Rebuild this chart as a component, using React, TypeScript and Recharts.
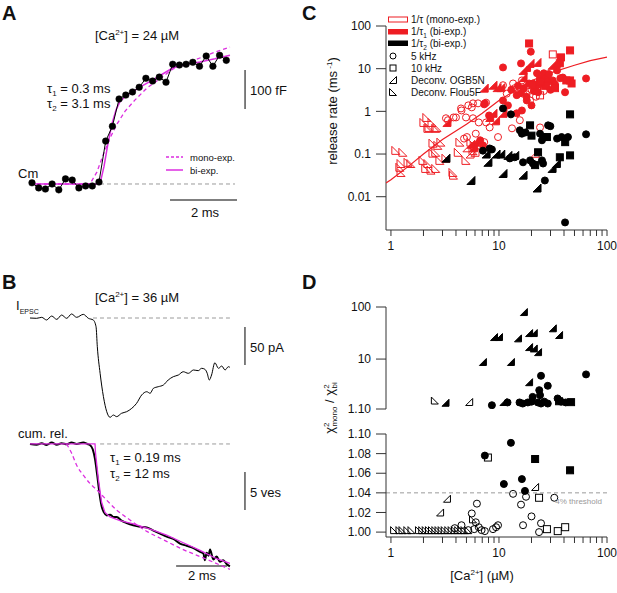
import React from "react";
import {
  ComposedChart,
  ScatterChart,
  Scatter,
  Line,
  XAxis,
  YAxis,
  ReferenceLine,
} from "recharts";

const FONT = "Arial, 'Liberation Sans', Helvetica, sans-serif";
const RED = "#ee1d23";
const MAGENTA = "#dc2ee0";
const AXIS = "#333";
const GRAY = "#9a9a9a";
const BAR = "#555";

// ---------- panel A: capacitance (time in ms, Cm in fF)
const cmTime = [0, 0.2, 0.4, 0.6, 0.8, 1.0, 1.2, 1.4, 1.6, 1.8, 2.0, 2.2, 2.4, 2.6, 2.8, 3.0, 3.2, 3.4, 3.6, 3.8, 4.0, 4.2, 4.4, 4.6, 4.8, 5.0, 5.2, 5.4, 5.6, 5.8];
const cmValues = [3, -10, -13, 0, -15, 13, 10, -10, -5, -5, 5, 110, 148, 218, 228, 236, 248, 271, 264, 274, 261, 307, 305, 307, 312, 302, 328, 302, 330, 317];
const cmMonoFit = [[-0.06, 0], [1.73, 0], [1.94, 31], [2.12, 74], [2.33, 118], [2.54, 154], [2.78, 187], [3.07, 215], [3.43, 246], [3.82, 270], [4.21, 295], [4.63, 310], [5.01, 323], [5.46, 338], [5.91, 351]];
const cmBiFit = [[-0.06, 0], [2.03, 0], [2.15, 45], [2.27, 105], [2.39, 155], [2.51, 190], [2.63, 212], [2.84, 228], [3.01, 237], [3.3, 252], [3.61, 267], [3.9, 282], [4.21, 298], [4.63, 307], [5.01, 313], [5.46, 321], [5.91, 330]];

// ---------- panel B: EPSC (pA) and cumulative release (vesicles)
const epscTrace = [[0, 0], [0.26, -0.4], [0.46, 0.9], [0.65, -2.6], [0.85, 2.6], [1.05, -1.8], [1.24, 3.9], [1.44, -0.4], [1.63, 5.3], [1.83, 0.9], [2.09, 4.8], [2.29, -0.4], [2.48, -2.6], [2.59, -11.4], [2.64, -37.7], [2.75, -72.8], [2.88, -103.5], [3.01, -123.3], [3.14, -130.7], [3.27, -127.7], [3.4, -129.8], [3.59, -125.4], [3.79, -123.3], [3.99, -118.9], [4.18, -112.3], [4.38, -101.3], [4.58, -97], [4.71, -99.1], [4.84, -92.5], [5.03, -90.4], [5.23, -88.2], [5.42, -81.6], [5.62, -77.2], [5.82, -75], [6.01, -70.7], [6.21, -72.8], [6.41, -68.4], [6.6, -69.3], [6.73, -66.2], [6.86, -67.5], [6.95, -72.8], [7.03, -81.6], [7.12, -75], [7.25, -58.8], [7.39, -66.2], [7.52, -63.2], [7.65, -68.4], [7.78, -64.1], [7.84, -64.9]];
const cumTrace = [[0, 0], [0.26, 0.09], [0.46, -0.09], [0.65, 0.13], [0.85, -0.18], [1.05, 0.09], [1.24, -0.09], [1.44, 0.04], [1.63, -0.18], [1.83, 0], [2.09, -0.18], [2.25, 0], [2.35, 0.13], [2.46, 0.7], [2.55, 2.0], [2.64, 4.2], [2.72, 6.4], [2.81, 8.2], [2.9, 9.0], [3.01, 9.4], [3.14, 9.3], [3.27, 9.6], [3.4, 9.6], [3.59, 10.1], [3.79, 10.4], [4.05, 10.7], [4.31, 10.9], [4.58, 11.0], [4.84, 11.4], [5.1, 11.8], [5.36, 12.2], [5.62, 12.5], [5.88, 13.1], [6.14, 13.4], [6.41, 13.7], [6.67, 14.2], [6.8, 14.4], [6.86, 15.3], [6.93, 14.3], [7.0, 14.7], [7.06, 13.9], [7.19, 15.2], [7.32, 14.8], [7.45, 15.5], [7.58, 15.3], [7.71, 15.8], [7.84, 16.1]];
const cumBiFit = [[0, 0], [2.55, 0], [2.57, 1.2], [2.68, 4.6], [2.81, 7.7], [2.94, 9.0], [3.14, 9.6], [3.53, 10.1], [4.05, 10.5], [4.71, 11.2], [5.36, 12.0], [6.01, 13.0], [6.67, 14.0], [7.32, 15.1], [7.84, 15.7]];
const cumMonoFit = [[1.44, 0], [1.63, 1.2], [1.83, 2.8], [2.09, 4.1], [2.35, 5.2], [2.61, 6.0], [3.01, 7.4], [3.4, 8.7], [3.92, 10.0], [4.58, 11.5], [5.23, 12.6], [6.01, 13.9], [6.8, 15.0], [7.84, 16.5]];

// ---------- panel C: release rate (ms^-1) vs [Ca2+] (uM)
const cMonoCircle = [[3.23, 0.69], [3.37, 0.62], [3.8, 0.72], [4.0, 0.72], [4.45, 1.17], [4.5, 1.05], [4.75, 0.23], [4.95, 0.72], [5.05, 0.25], [5.2, 1.38], [5.6, 1.24], [5.75, 1.54], [5.75, 0.69], [6.1, 0.3], [6.4, 1.54], [6.5, 0.55], [7.3, 0.19], [7.6, 1.6], [7.6, 0.55], [8.2, 0.42], [9.8, 0.25], [10.9, 4.1], [11.8, 2.6], [13.2, 0.4], [13.5, 4.5], [15.6, 0.62], [16.3, 5.3], [16.7, 2.6], [19.4, 1.8], [24, 0.42], [31.5, 3.7], [20, 3.2], [22, 2.2], [26, 3], [18, 2.5], [14, 3.5]];
const cMonoSquare = [[24, 2.37], [31.5, 21.6], [22.5, 3], [26, 4]];
const cMonoOgb = [[5.05, 0.14], [5.4, 0.1], [6, 0.11], [21.6, 0.104]];
const cMonoFlou = [[1.11, 0.122], [1.29, 0.11], [1.24, 0.06], [1.44, 0.064], [1.53, 0.06], [1.24, 0.037], [1.21, 0.049], [2.02, 0.55], [2.25, 0.42], [2.6, 0.4], [2.2, 0.4], [2.15, 0.72], [2.4, 0.55], [2.67, 0.42], [2.45, 0.18], [2.72, 0.16], [2.9, 0.19], [2.6, 0.11], [2.45, 0.105], [1.98, 0.071], [2.1, 0.046], [2.35, 0.042], [2.6, 0.046], [2.2, 0.06], [3.23, 0.08], [3.75, 0.037], [3.8, 0.032], [4.2, 0.11], [4.95, 0.071], [4.35, 0.19], [5.5, 0.19], [5.9, 0.16], [5.75, 0.12], [2.84, 0.071]];
const cBiFastCircle = [[6.7, 0.21], [7.1, 0.16], [7.3, 1.46], [7.4, 1.54], [8.1, 0.8], [10.9, 1.8], [10.9, 10.7], [12.1, 1.38], [14.6, 2.4], [14.6, 0.9], [16, 13.3], [16.3, 1.05], [18.1, 1.8], [19.7, 25], [20, 1.38], [20.6, 4.5], [22.5, 7.8], [24, 5.9], [26, 7.8], [27.8, 6.2], [31.5, 5.3], [34.5, 9.1], [39, 6.2], [40.9, 2.8], [64, 5.9], [13, 3.2], [15, 4], [16, 2.7], [17, 3.5], [18, 2.2], [19, 4.5], [21, 3], [22, 3.8], [23, 2.8], [25, 4.3], [28, 4.8], [29, 7.5], [30, 3.2], [33, 4.3], [37, 6]];
const cBiFastSquare = [[19, 39], [45.5, 26.8], [37.5, 18.4], [36.6, 13.4], [20.6, 4.1], [45.5, 5.3], [47, 4.5], [42, 5.3], [27, 4], [24, 5], [33, 3.5]];
const cBiFastOgb = [[3.3, 0.55], [6, 0.19], [7.3, 3.5], [8.8, 4.1], [10.4, 3.6], [9.6, 3.6], [8.2, 0.72], [8.8, 0.9], [9.3, 0.6], [10.9, 0.9], [16.7, 9.1], [16.7, 6.2], [18, 10.7], [19.4, 13.3], [22.5, 14], [31, 12], [34, 13.3], [5.5, 0.17], [5.8, 0.14]];
const cBiSlowCircle = [[7.1, 0.12], [8.2, 0.135], [8.6, 0.128], [10.9, 1.17], [12.9, 0.85], [12.6, 0.079], [14, 0.084], [15.6, 0.36], [16.3, 0.3], [17.6, 0.32], [24, 0.3], [25, 0.21], [26.6, 0.25], [28.5, 0.47], [29.9, 0.45], [34.5, 0.23], [38, 0.25], [43.5, 0.25], [64, 0.29], [16.7, 0.064], [19.4, 0.071], [25, 0.071], [25.6, 0.06], [26.6, 0.024], [40.9, 0.0025], [20.6, 0.06]];
const cBiSlowSquare = [[19.4, 0.47], [20, 0.27], [45.5, 0.85], [41, 0.19], [23, 0.11], [21.6, 0.055], [36.6, 0.084], [45.5, 0.093], [27.8, 0.25]];
const cBiSlowOgb = [[3.23, 0.08], [5.5, 0.024], [7.6, 0.1], [7.9, 0.064], [9.4, 0.1], [10.4, 0.1], [12.1, 0.093], [14, 0.093], [10.9, 0.035], [16.7, 0.032], [22.5, 0.016], [31, 0.046], [34, 0.06]];
const cRateFit = [[0.9, 0.021], [1, 0.025], [1.5, 0.055], [2, 0.1], [3, 0.22], [5, 0.5], [7, 0.9], [10, 1.8], [15, 3.4], [20, 5.2], [30, 8], [50, 12], [70, 15.5], [100, 18.7]];

// ---------- panel D: chi2 ratio mono / bi vs [Ca2+]
const dFilledCircle = [[8.6, 1.3], [12, 1.47], [15.5, 1.47], [16.6, 1.4], [18.5, 1.47], [20, 1.52], [20.5, 1.88], [22.9, 1.47], [24, 2.03], [24.5, 1.4], [26.3, 1.52], [28.3, 1.4], [34.9, 1.75], [37.6, 1.52], [41.5, 1.47], [24.5, 4.78], [28.3, 3.07], [23.6, 2.53], [64, 5.08], [12.9, 1.091], [7.4, 1.078], [11.1, 1.049], [16.3, 1.054], [17.4, 1.042]];
const dFilledSquare = [[36, 1.55], [46.5, 1.49], [21.6, 1.0745], [45.5, 1.063]];
const dFilledOgb = [[17, 80], [9, 26.5], [10, 26.5], [15, 25], [19, 31.6], [21, 31.6], [31.5, 39], [36, 29], [19, 17], [21, 16], [23, 13.6], [7.1, 8.8], [12.9, 8.8], [19, 3.6], [3.2, 1.45], [11, 1.5]];
const dOpenCircle = [[13.5, 1.039], [17.8, 1.036], [16, 1.028], [32.5, 1.035], [20, 1.016], [24.5, 1.009], [23.5, 1.0], [16.7, 1.007], [6.25, 1.029], [5.6, 1.019], [6.1, 1.01], [9.8, 1.007], [9.4, 1.005], [8.8, 1.003], [4.5, 1.007], [3.9, 1.004], [6.5, 1.005], [7.4, 1.001], [5.2, 1.002], [6.9, 1.002], [5.9, 1.003]];
const dOpenSquare = [[7.9, 1.076], [23.5, 1.035], [27.8, 1.003], [35, 1.001], [41, 1.005]];
const dOpenOgb = [[5.3, 1.5], [21.6, 1.046], [3.3, 1.034], [2.85, 1.02]];
const dOpenFlou = [[2.55, 1.6], [5.75, 1.013], [1.07, 1.002], [1.2, 1.002], [1.28, 1.002], [1.42, 1.002], [1.55, 1.002], [1.82, 1.002], [1.95, 1.002], [2.1, 1.002], [2.25, 1.002], [2.4, 1.002], [2.58, 1.002], [2.76, 1.002], [2.95, 1.002], [3.15, 1.002], [3.4, 1.002], [3.65, 1.002], [3.9, 1.002], [4.2, 1.002], [4.5, 1.002], [4.8, 1.002], [5.2, 1.002]];

const logTicksX = [1, 2, 3, 4, 5, 6, 7, 8, 9, 10, 20, 30, 40, 50, 60, 70, 80, 90, 100];
const rateTicks = [0.01, 0.1, 1, 10, 100];
const chiTopTicks = [1.1, 10, 100];
const chiBottomTicks = [1.0, 1.02, 1.04, 1.06, 1.08, 1.1];

const xy = (a: number[][]) => a.map(([x, y]) => ({ x, y }));
const tv = (a: number[][]) => a.map(([t, v]) => ({ t, v }));
const cmData = cmTime.map((t, i) => ({ t, v: cmValues[i] }));

type Kind = "circle" | "square" | "ogb" | "flou";

const marker =
  (kind: Kind, color: string, filled: boolean, size = 7) =>
  (p: any) => {
    const { cx, cy } = p;
    if (cx == null || cy == null) return <g />;
    const h = size / 2;
    const common = {
      fill: filled ? color : "none",
      stroke: color,
      strokeWidth: 1,
    };
    if (kind === "circle") return <circle cx={cx} cy={cy} r={h} {...common} />;
    if (kind === "square")
      return <rect x={cx - h} y={cy - h} width={size} height={size} {...common} />;
    if (kind === "ogb")
      return (
        <polygon
          points={`${cx + h},${cy - h} ${cx + h},${cy + h} ${cx - h},${cy + h}`}
          {...common}
        />
      );
    return (
      <polygon
        points={`${cx - h},${cy - h} ${cx - h},${cy + h} ${cx + h},${cy + h}`}
        {...common}
      />
    );
  };

const noShape = () => <g />;

const LogTick = (props: any) => {
  const { x, y, payload } = props;
  const v = payload.value;
  if (v !== 1 && v !== 10 && v !== 100) return <g />;
  return (
    <text x={x} y={y} dy="0.71em" textAnchor="middle" fontSize={12} fill="#111" fontFamily={FONT}>
      {v}
    </text>
  );
};

const tickStyle = { fontSize: 12, fill: "#111", fontFamily: FONT };

const Sup = ({ children }: any) => (
  <tspan fontSize={8} dy={-5}>
    {children}
  </tspan>
);

const Overlay = () => (
  <svg
    width={617}
    height={593}
    style={{ position: "absolute", left: 0, top: 0, pointerEvents: "none" }}
    fontFamily={FONT}
    fill="#111"
  >
    {/* panel letters */}
    <text x={2} y={20} fontSize={20} fontWeight="bold">A</text>
    <text x={2} y={289} fontSize={20} fontWeight="bold">B</text>
    <text x={302} y={20} fontSize={20} fontWeight="bold">C</text>
    <text x={302} y={289} fontSize={20} fontWeight="bold">D</text>

    {/* panel A */}
    <text x={137} y={39.5} fontSize={13} textAnchor="middle">
      [Ca<Sup>2+</Sup>
      <tspan dy={5}>] = 24 µM</tspan>
    </text>
    <text x={47} y={92.5} fontSize={13}>
      τ<tspan fontSize={8} dy={3}>1</tspan>
      <tspan dy={-3}> = 0.3 ms</tspan>
    </text>
    <text x={47} y={107.5} fontSize={13}>
      τ<tspan fontSize={8} dy={3}>2</tspan>
      <tspan dy={-3}> = 3.1 ms</tspan>
    </text>
    <text x={250} y={94.5} fontSize={13}>100 fF</text>
    <text x={205} y={216.5} fontSize={13} textAnchor="middle">2 ms</text>
    <text x={18} y={177.5} fontSize={13}>Cm</text>
    <line x1={166} x2={183} y1={157} y2={157} stroke={MAGENTA} strokeWidth={1.3} strokeDasharray="3 2" />
    <line x1={166} x2={183} y1={170} y2={170} stroke={MAGENTA} strokeWidth={1.5} />
    <text x={190} y={160.5} fontSize={9.5}>mono-exp.</text>
    <text x={190} y={173.5} fontSize={9.5}>bi-exp.</text>

    {/* panel B */}
    <text x={137} y={301.5} fontSize={13} textAnchor="middle">
      [Ca<Sup>2+</Sup>
      <tspan dy={5}>] = 36 µM</tspan>
    </text>
    <text x={16} y={309.5} fontSize={13}>
      I<tspan fontSize={7} dy={4}>EPSC</tspan>
    </text>
    <text x={250} y={351.5} fontSize={13}>50 pA</text>
    <text x={18} y={437.5} fontSize={13}>cum. rel.</text>
    <text x={110} y={461.5} fontSize={13}>
      τ<tspan fontSize={8} dy={3}>1</tspan>
      <tspan dy={-3}> = 0.19 ms</tspan>
    </text>
    <text x={110} y={477.5} fontSize={13}>
      τ<tspan fontSize={8} dy={3}>2</tspan>
      <tspan dy={-3}> = 12 ms</tspan>
    </text>
    <text x={250} y={496.5} fontSize={13}>5 ves</text>
    <text x={202} y={579.5} fontSize={13} textAnchor="middle">2 ms</text>

    {/* panel C legend */}
    <rect x={388.5} y={17} width={19} height={5} fill="none" stroke={RED} strokeWidth={1} />
    <rect x={388} y={29} width={20} height={5.5} fill={RED} />
    <rect x={388} y={40.5} width={20} height={5.5} fill="#000" />
    {marker("circle", "#000", false, 6)({ cx: 393, cy: 56 })}
    {marker("square", "#000", false, 6)({ cx: 393, cy: 68 })}
    {marker("ogb", "#000", false, 7)({ cx: 393, cy: 80 })}
    {marker("flou", "#000", false, 7)({ cx: 393, cy: 92 })}
    <text x={411} y={23} fontSize={10}>1/τ (mono-exp.)</text>
    <text x={411} y={35} fontSize={10}>
      1/τ<tspan fontSize={6.5} dy={2.5}>1</tspan>
      <tspan dy={-2.5}> (bi-exp.)</tspan>
    </text>
    <text x={411} y={47} fontSize={10}>
      1/τ<tspan fontSize={6.5} dy={2.5}>2</tspan>
      <tspan dy={-2.5}> (bi-exp.)</tspan>
    </text>
    <text x={411} y={59.5} fontSize={10}>5 kHz</text>
    <text x={411} y={71.5} fontSize={10}>10 kHz</text>
    <text x={411} y={83.5} fontSize={10}>Deconv. OGB5N</text>
    <text x={411} y={95.5} fontSize={10}>Deconv. Flou5F</text>

    {/* axis titles */}
    <text x={332} y={115.5} fontSize={13} textAnchor="middle" transform="rotate(-90 332 111)">
      release rate (ms<Sup> -1</Sup>
      <tspan dy={5}>)</tspan>
    </text>
    <text x={330} y={412} fontSize={13} textAnchor="middle" transform="rotate(-90 330 408)">
      χ<tspan fontSize={8} dy={-5}>2</tspan>
      <tspan fontSize={8} dy={8} dx={-4}>mono</tspan>
      <tspan dy={-3}> / χ</tspan>
      <tspan fontSize={8} dy={-5}>2</tspan>
      <tspan fontSize={8} dy={8} dx={-4}>bi</tspan>
    </text>
    <text x={482} y={579.5} fontSize={13} textAnchor="middle">
      [Ca<Sup>2+</Sup>
      <tspan dy={5}>] (µM)</tspan>
    </text>
  </svg>
);

const PanelA = () => (
  <div style={{ position: "absolute", left: 0, top: 0 }}>
    <ComposedChart width={280} height={230} margin={{ top: 40, right: 20, bottom: 15, left: 20 }}>
      <XAxis type="number" dataKey="t" domain={[-0.358, 6.806]} hide allowDataOverflow />
      <YAxis type="number" domain={[-79.5, 369.2]} hide allowDataOverflow />
      <ReferenceLine segment={[{ x: 2.03, y: 0 }, { x: 6.06, y: 0 }]} stroke={GRAY} strokeDasharray="4 3" />
      <ReferenceLine segment={[{ x: 6.36, y: 192 }, { x: 6.36, y: 292 }]} stroke={BAR} strokeWidth={1.5} />
      <ReferenceLine segment={[{ x: 4.12, y: -41 }, { x: 6.12, y: -41 }]} stroke={BAR} strokeWidth={1.5} />
      <Line data={tv(cmMonoFit)} dataKey="v" stroke={MAGENTA} strokeWidth={1.3} strokeDasharray="4 3" dot={false} isAnimationActive={false} />
      <Line data={tv(cmBiFit)} dataKey="v" stroke={MAGENTA} strokeWidth={1.5} dot={false} isAnimationActive={false} />
      <Line data={cmData} dataKey="v" stroke="#000" strokeWidth={1} dot={{ r: 3.3, fill: "#000", stroke: "#000", strokeWidth: 0.5 }} isAnimationActive={false} />
    </ComposedChart>
  </div>
);

const PanelB = () => (
  <>
    <div style={{ position: "absolute", left: 0, top: 290 }}>
      <ComposedChart width={280} height={140} margin={{ top: 10, right: 20, bottom: 5, left: 20 }}>
        <XAxis type="number" dataKey="t" domain={[-0.392, 9.02]} hide allowDataOverflow />
        <YAxis type="number" domain={[-140.8, 23.7]} hide allowDataOverflow />
        <ReferenceLine segment={[{ x: 2.47, y: 0 }, { x: 7.84, y: 0 }]} stroke={GRAY} strokeDasharray="4 3" />
        <ReferenceLine segment={[{ x: 8.43, y: -11.8 }, { x: 8.43, y: -61.8 }]} stroke={BAR} strokeWidth={1.5} />
        <Line data={tv(epscTrace)} dataKey="v" type="monotone" stroke="#000" strokeWidth={1} dot={false} isAnimationActive={false} />
      </ComposedChart>
    </div>
    <div style={{ position: "absolute", left: 0, top: 430 }}>
      <ComposedChart width={280} height={163} margin={{ top: 5, right: 20, bottom: 13, left: 20 }}>
        <XAxis type="number" dataKey="t" domain={[-0.392, 9.02]} hide allowDataOverflow />
        <YAxis type="number" domain={[-1.18, 17.9]} reversed hide allowDataOverflow />
        <ReferenceLine segment={[{ x: 2.75, y: 0 }, { x: 7.84, y: 0 }]} stroke={GRAY} strokeDasharray="4 3" />
        <ReferenceLine segment={[{ x: 8.43, y: 3.68 }, { x: 8.43, y: 8.69 }]} stroke={BAR} strokeWidth={1.5} />
        <ReferenceLine segment={[{ x: 5.73, y: 16.06 }, { x: 7.73, y: 16.06 }]} stroke={BAR} strokeWidth={1.5} />
        <Line data={tv(cumTrace)} dataKey="v" type="monotone" stroke="#000" strokeWidth={2} dot={false} isAnimationActive={false} />
        <Line data={tv(cumBiFit)} dataKey="v" stroke={MAGENTA} strokeWidth={1.3} dot={false} isAnimationActive={false} />
        <Line data={tv(cumMonoFit)} dataKey="v" type="monotone" stroke={MAGENTA} strokeWidth={1.3} strokeDasharray="4 3" dot={false} isAnimationActive={false} />
      </ComposedChart>
    </div>
  </>
);

const PanelC = () => (
  <div style={{ position: "absolute", left: 300, top: 0 }}>
    <ScatterChart width={317} height={290} margin={{ top: 26, right: 10, bottom: 30, left: 30 }}>
      <XAxis
        type="number"
        dataKey="x"
        scale="log"
        domain={[0.9, 100]}
        allowDataOverflow
        ticks={logTicksX}
        interval={0}
        tick={<LogTick />}
        tickSize={6}
        tickMargin={5}
        height={30}
        stroke={AXIS}
      />
      <YAxis
        type="number"
        dataKey="y"
        scale="log"
        domain={[0.00166, 100]}
        allowDataOverflow
        ticks={rateTicks}
        interval={0}
        tick={tickStyle}
        tickSize={10}
        tickMargin={5}
        width={56}
        stroke={AXIS}
      />
      <Scatter data={xy(cRateFit)} shape={noShape} line={{ stroke: RED, strokeWidth: 1.2 }} isAnimationActive={false} />
      <Scatter data={xy(cMonoFlou)} shape={marker("flou", RED, false, 8)} isAnimationActive={false} />
      <Scatter data={xy(cMonoOgb)} shape={marker("ogb", RED, false, 8)} isAnimationActive={false} />
      <Scatter data={xy(cMonoCircle)} shape={marker("circle", RED, false, 7)} isAnimationActive={false} />
      <Scatter data={xy(cMonoSquare)} shape={marker("square", RED, false, 7)} isAnimationActive={false} />
      <Scatter data={xy(cBiFastCircle)} shape={marker("circle", RED, true, 7)} isAnimationActive={false} />
      <Scatter data={xy(cBiFastSquare)} shape={marker("square", RED, true, 7)} isAnimationActive={false} />
      <Scatter data={xy(cBiFastOgb)} shape={marker("ogb", RED, true, 8)} isAnimationActive={false} />
      <Scatter data={xy(cBiSlowCircle)} shape={marker("circle", "#000", true, 7)} isAnimationActive={false} />
      <Scatter data={xy(cBiSlowSquare)} shape={marker("square", "#000", true, 7)} isAnimationActive={false} />
      <Scatter data={xy(cBiSlowOgb)} shape={marker("ogb", "#000", true, 8)} isAnimationActive={false} />
    </ScatterChart>
  </div>
);

const top = (a: number[][]) => xy(a.filter(([, y]) => y > 1.1));
const bottom = (a: number[][]) => xy(a.filter(([, y]) => y <= 1.1));

const chiSeries = (pick: (a: number[][]) => { x: number; y: number }[]) => [
  <Scatter key="of" data={pick(dOpenFlou)} shape={marker("flou", "#000", false, 7)} isAnimationActive={false} />,
  <Scatter key="oo" data={pick(dOpenOgb)} shape={marker("ogb", "#000", false, 7)} isAnimationActive={false} />,
  <Scatter key="oc" data={pick(dOpenCircle)} shape={marker("circle", "#000", false, 7)} isAnimationActive={false} />,
  <Scatter key="os" data={pick(dOpenSquare)} shape={marker("square", "#000", false, 7)} isAnimationActive={false} />,
  <Scatter key="fc" data={pick(dFilledCircle)} shape={marker("circle", "#000", true, 7)} isAnimationActive={false} />,
  <Scatter key="fs" data={pick(dFilledSquare)} shape={marker("square", "#000", true, 7)} isAnimationActive={false} />,
  <Scatter key="fo" data={pick(dFilledOgb)} shape={marker("ogb", "#000", true, 7)} isAnimationActive={false} />,
];

const PanelD = () => (
  <>
    <div style={{ position: "absolute", left: 300, top: 295 }}>
      <ScatterChart width={317} height={125} margin={{ top: 12, right: 10, bottom: 11, left: 30 }}>
        <XAxis type="number" dataKey="x" scale="log" domain={[0.9, 100]} allowDataOverflow hide />
        <YAxis
          type="number"
          dataKey="y"
          scale="log"
          domain={[1.1, 100]}
          allowDataOverflow
          ticks={chiTopTicks}
          interval={0}
          tickFormatter={(v: number) => (v === 1.1 ? "1.10" : String(v))}
          tick={tickStyle}
          tickSize={10}
          tickMargin={5}
          width={56}
          stroke={AXIS}
        />
        {chiSeries(top)}
      </ScatterChart>
    </div>
    <div style={{ position: "absolute", left: 300, top: 420 }}>
      <ScatterChart width={317} height={173} margin={{ top: 14, right: 10, bottom: 26, left: 30 }}>
        <XAxis
          type="number"
          dataKey="x"
          scale="log"
          domain={[0.9, 100]}
          allowDataOverflow
          ticks={logTicksX}
          interval={0}
          tick={<LogTick />}
          tickSize={6}
          tickMargin={5}
          height={30}
          stroke={AXIS}
        />
        <YAxis
          type="number"
          dataKey="y"
          domain={[0.995, 1.1]}
          allowDataOverflow
          ticks={chiBottomTicks}
          interval={0}
          tickFormatter={(v: number) => v.toFixed(2)}
          tick={tickStyle}
          tickSize={10}
          tickMargin={5}
          width={56}
          stroke={AXIS}
        />
        <ReferenceLine
          y={1.04}
          stroke={GRAY}
          strokeDasharray="4 3"
          label={{ value: "4% threshold", position: "insideTopRight", fontSize: 8, fill: GRAY, fontFamily: FONT }}
        />
        {chiSeries(bottom)}
      </ScatterChart>
    </div>
  </>
);

export default function App() {
  return (
    <div
      style={{
        position: "absolute",
        left: 0,
        top: 0,
        width: 617,
        height: 593,
        background: "#fff",
        fontFamily: FONT,
        overflow: "hidden",
      }}
    >
      <PanelA />
      <PanelB />
      <PanelC />
      <PanelD />
      <Overlay />
    </div>
  );
}
